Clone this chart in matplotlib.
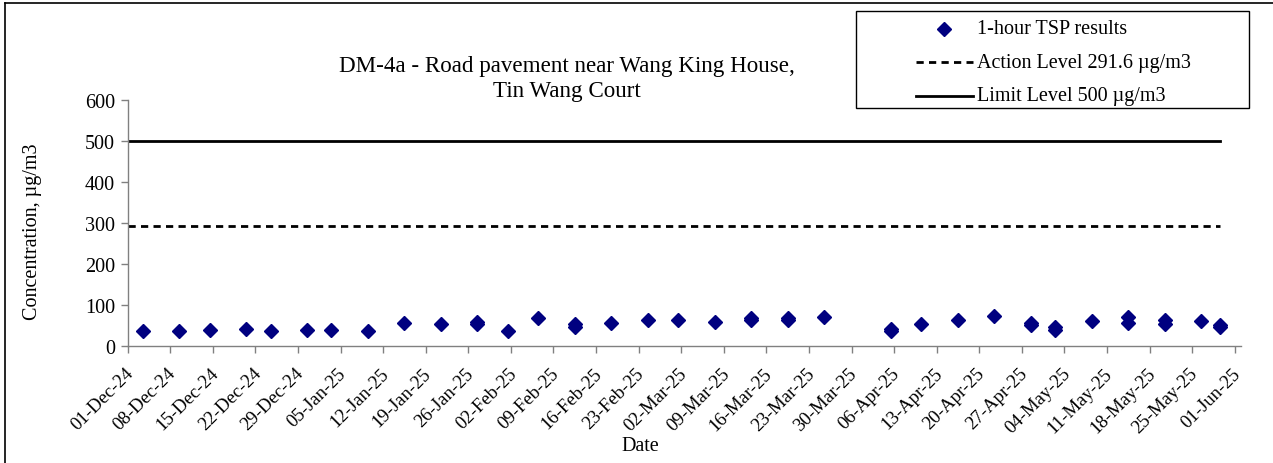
import matplotlib
matplotlib.use("Agg")
import matplotlib.pyplot as plt
import matplotlib.dates as mdates
import matplotlib.transforms as mtransforms
from matplotlib.lines import Line2D
from matplotlib.patches import Rectangle
import pandas as pd
import numpy as np

# ---------------- data ----------------
dates = ["2024-12-03", "2024-12-09", "2024-12-14", "2024-12-20", "2024-12-24",
         "2024-12-30", "2025-01-03", "2025-01-09", "2025-01-15", "2025-01-21",
         "2025-01-27", "2025-01-27", "2025-02-01", "2025-02-06", "2025-02-12",
         "2025-02-12", "2025-02-18", "2025-02-24", "2025-03-01", "2025-03-07",
         "2025-03-13", "2025-03-13", "2025-03-19", "2025-03-19", "2025-03-25",
         "2025-04-05", "2025-04-05", "2025-04-10", "2025-04-16", "2025-04-22",
         "2025-04-28", "2025-04-28", "2025-05-02", "2025-05-02", "2025-05-08",
         "2025-05-14", "2025-05-14", "2025-05-20", "2025-05-20", "2025-05-26",
         "2025-05-29", "2025-05-29"]
tsp = [36, 35, 37, 39.5, 35.5,
       37, 38.5, 36, 54, 51.5,
       52, 57, 35.5, 67, 46,
       52, 55.5, 62, 62, 56.5,
       63, 68, 62, 67, 70,
       35, 40, 52.5, 62, 72,
       49, 54, 38, 44, 59,
       69.5, 55, 61.5, 52, 59,
       44, 50]
action_level = 291.6
limit_level = 500
axis_start = "2024-12-01"
axis_end = "2025-06-02"
title = "DM-4a - Road pavement near Wang King House,\nTin Wang Court"
series_labels = ["1-hour TSP results", "Action Level 291.6 µg/m3", "Limit Level 500 µg/m3"]
y_label = "Concentration, µg/m3"
x_label = "Date"

# ---------------- figure ----------------
W, H = 1273, 464
FS = 14.5
plt.rcParams['font.family'] = ['Liberation Serif', 'DejaVu Serif']
plt.rcParams['font.size'] = FS
fig = plt.figure(figsize=(W / 100, H / 100), dpi=100)

def fx(x):
    return x / W

def fy(y):
    return 1 - y / H

ax = fig.add_axes([fx(127.7), fy(346.5), fx(1240.8) - fx(127.7), fy(100.7) - fy(346.5)])

d = pd.to_datetime(dates) + pd.Timedelta(hours=12)
x0 = pd.Timestamp(axis_start)
x1 = pd.Timestamp(axis_end)
navy = "#000080"

ax.plot(d, tsp, linestyle="none", marker="D", ms=7.0, color=navy, mec=navy)
line_x = [x0, d.max()]
ax.plot(line_x, [action_level] * 2, color="black", lw=2.0, linestyle=(0, (2.6, 1.9)))
ax.plot(line_x, [limit_level] * 2, color="black", lw=2.0)

ax.set_xlim(x0, x1)
ax.set_ylim(0, 600)
ax.set_yticks(np.arange(0, 601, 100))
ticks = pd.date_range(x0, pd.Timestamp("2025-06-01"), freq="7D")
ax.set_xticks(ticks)
ax.xaxis.set_major_formatter(mdates.DateFormatter("%d-%b-%y"))

spine_col = "#808080"
for s in ["top", "right"]:
    ax.spines[s].set_visible(False)
for s in ["left", "bottom"]:
    ax.spines[s].set_color(spine_col)
    ax.spines[s].set_linewidth(1.0)
ax.tick_params(axis="both", direction="out", length=5, width=1.0, color=spine_col,
               labelsize=FS, labelcolor="black")
ax.tick_params(axis="x", pad=13, labelsize=13.5)
ax.tick_params(axis="y", pad=4)
shift = mtransforms.ScaledTranslation(3 / 100, 0, fig.dpi_scale_trans)
for lab in ax.get_xticklabels():
    lab.set_rotation(45)
    lab.set_ha("right")
    lab.set_rotation_mode("anchor")
    lab.set_va("center")
    lab.set_transform(lab.get_transform() + shift)

fig.text(fx(33), fy(232), y_label, rotation=90, ha="center", va="center", fontsize=FS)
fig.text(fx(640), fy(447), x_label, ha="center", va="center", fontsize=FS)
fig.text(fx(567), fy(79), title, ha="center", va="center", fontsize=16.6, linespacing=1.2)

# outer chart border
fig.add_artist(Line2D([fx(5), fx(5)], [fy(4), 0], transform=fig.transFigure, color="black", lw=1.2))
fig.add_artist(Line2D([fx(5), 1], [fy(4), fy(4)], transform=fig.transFigure, color="black", lw=1.2))

# legend
fig.add_artist(Rectangle((fx(856), fy(108.5)), fx(1249.3) - fx(856), fy(12.3) - fy(108.5),
                         transform=fig.transFigure, facecolor="white", edgecolor="black", lw=1.0))
rows_y = [29.5, 63.3, 96.7]
fig.add_artist(Line2D([fx(944)], [fy(rows_y[0])], transform=fig.transFigure, linestyle="none",
                      marker="D", ms=7.0, color=navy))
fig.add_artist(Line2D([fx(916), fx(973)], [fy(rows_y[1])] * 2, transform=fig.transFigure,
                      color="black", lw=2.0, linestyle=(0, (2.6, 1.9))))
fig.add_artist(Line2D([fx(916), fx(973)], [fy(rows_y[2])] * 2, transform=fig.transFigure,
                      color="black", lw=2.0))
for lbl, yy in zip(series_labels, rows_y):
    fig.text(fx(977), fy(yy), lbl, ha="left", va="center", fontsize=FS)

fig.savefig("out.png", dpi=100)
